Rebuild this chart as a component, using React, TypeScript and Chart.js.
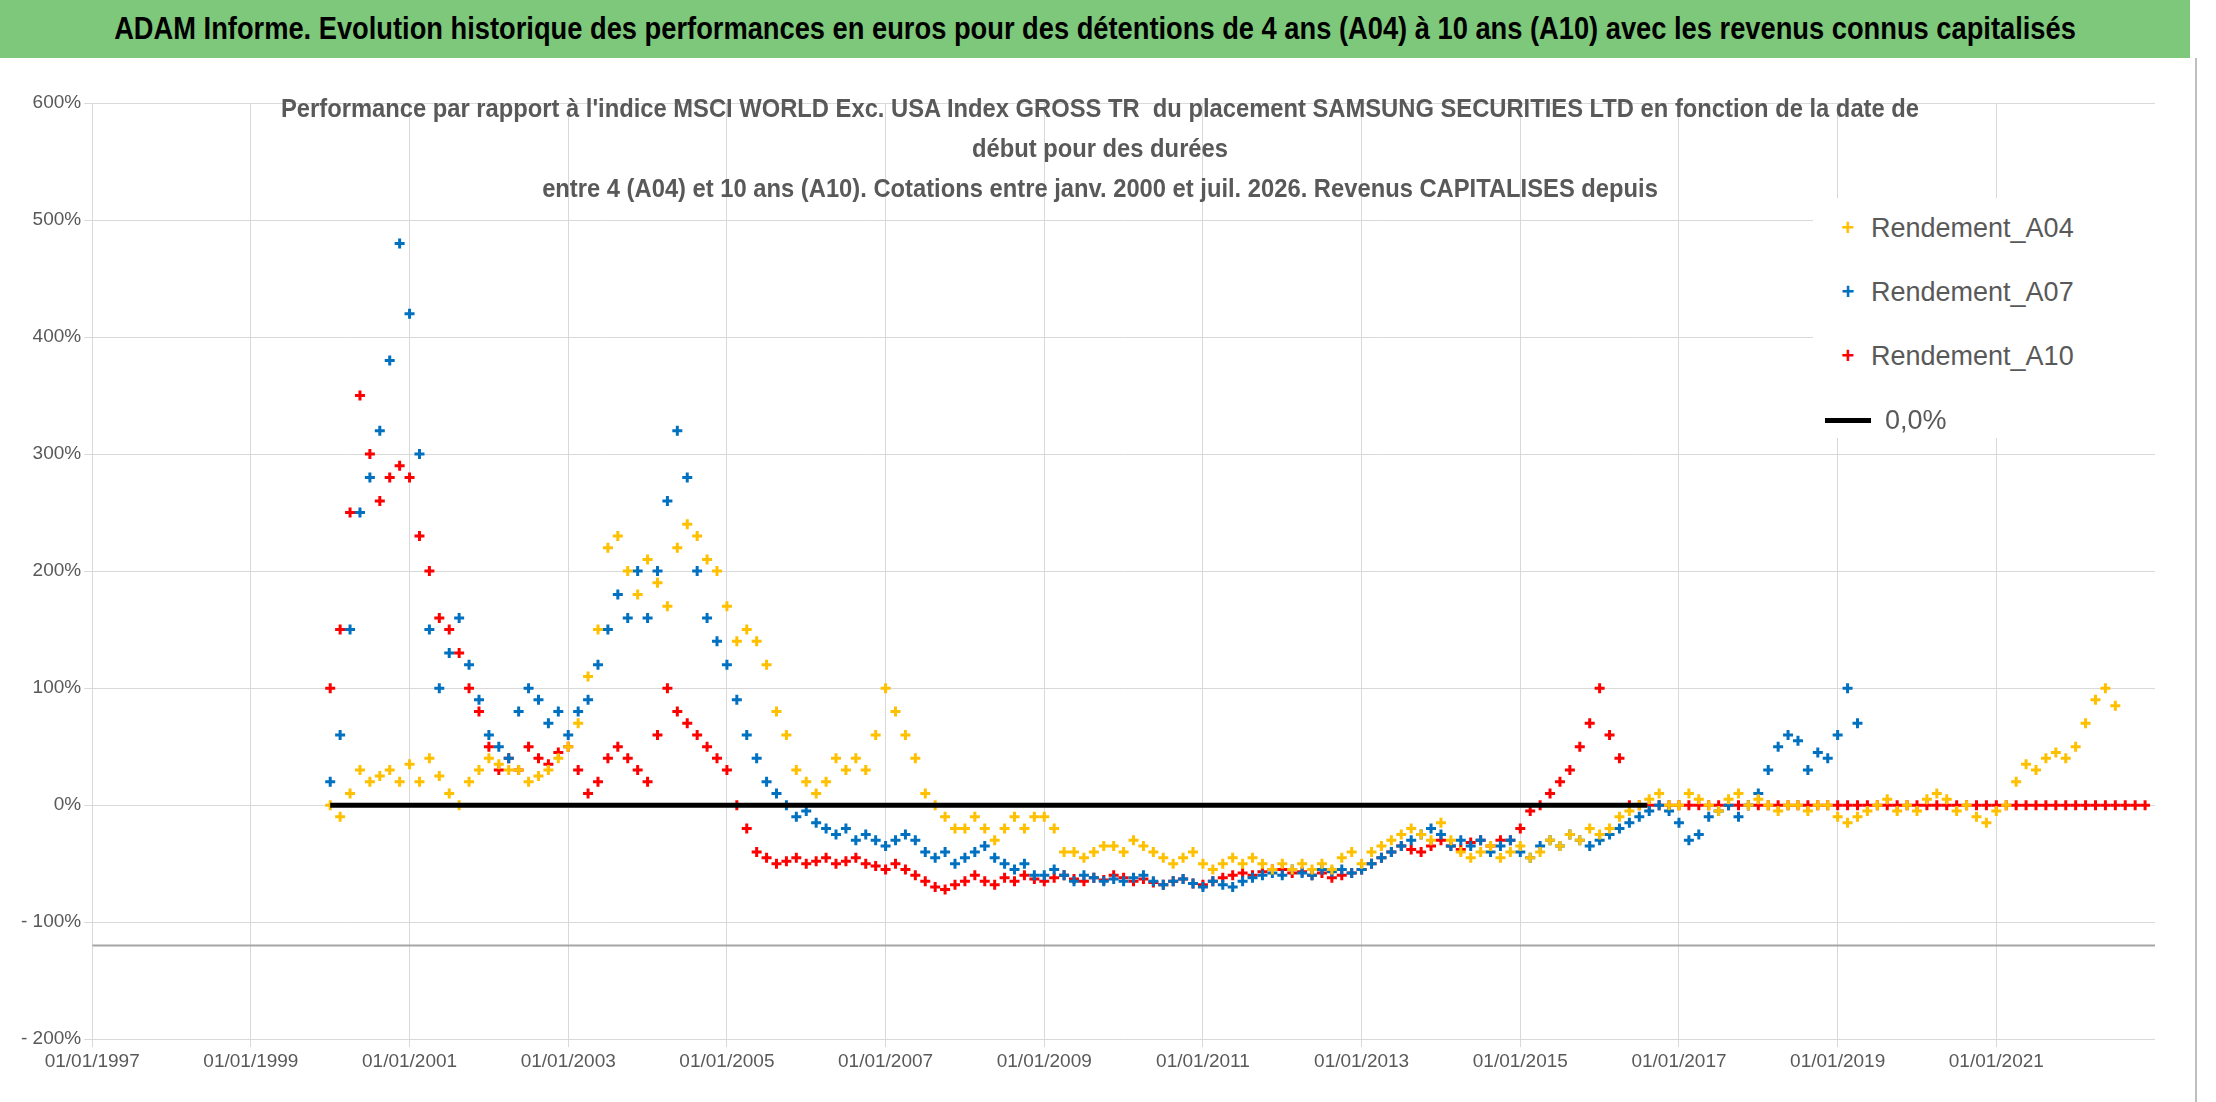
import React, { useEffect, useRef } from "react";
import { Chart, registerables } from "chart.js";
Chart.register(...registerables);

const STEP = 0.125;
const START = 2000.0;
const X_TICKS = [1997, 1999, 2001, 2003, 2005, 2007, 2009, 2011, 2013, 2015, 2017, 2019, 2021];
const A04 = [0,-10,10,30,20,25,30,20, 35,20,40,25,10,0,20,30, 40,35,30,30,20,25,30,40, 50,70,110,150,220,230,200,180,
 210,190,170,220,240,230,210,200, 170,140,150,140,120,80,60,30, 20,10,20,40,30,40,30,60, 100,80,60,40,10,0,-10,-20,
 -20,-10,-20,-30,-20,-10,-20,-10, -10,-20,-40,-40,-45,-40,-35,-35, -40,-30,-35,-40,-45,-50,-45,-40, -50,-55,-50,-45,-50,-45,-50,-55,
 -50,-55,-50,-55,-50,-55,-45,-40, -50,-40,-35,-30,-25,-20,-25,-30, -15,-30,-40,-45,-40,-35,-45,-40, -35,-45,-40,-30,-35,-25,-30,-20,
 -25,-20,-10,-5,0,5,10,0, 0,10,5,0,-5,5,10,0, 5,0,-5,0,0,-5,0,0, -10,-15,-10,-5,0,5,-5,0,
 -5,5,10,5,-5,0,-10,-15, -5,0,20,35,30,40,45,40, 50,70,90,100,85];
const A07 = [20,60,150,250,280,320,380,480, 420,300,150,100,130,160,120,90, 60,50,40,80,100,90,70,80, 60,80,90,120,150,180,160,200,
 160,200,260,320,280,200,160,140, 120,90,60,40,20,10,0,-10, -5,-15,-20,-25,-20,-30,-25,-30, -35,-30,-25,-30,-40,-45,-40,-50,
 -45,-40,-35,-45,-50,-55,-50,-60, -60,-55,-60,-65,-60,-62,-65,-63, -65,-62,-60,-65,-68,-65,-63,-67, -70,-65,-68,-70,-65,-62,-60,-58,
 -60,-55,-58,-60,-55,-57,-55,-58, -55,-50,-45,-40,-35,-30,-25,-20, -25,-35,-30,-35,-30,-40,-35,-30, -40,-45,-35,-30,-35,-25,-30,-35,
 -30,-25,-20,-15,-10,-5,0,-5, -15,-30,-25,-10,-5,0,-10,0, 10,30,50,60,55,30,45,40, 60,100,70];
const A10 = [100,150,250,350,300,260,280,290, 280,230,200,160,150,130,100,80, 50,30,40,30,50,40,35,45, 50,30,10,20,40,50,40,30,
 20,60,100,80,70,60,50,40, 30,0,-20,-40,-45,-50,-48,-45, -50,-48,-45,-50,-48,-45,-50,-52, -55,-50,-55,-60,-65,-70,-72,-68,
 -65,-60,-65,-68,-62,-65,-60,-63, -65,-62,-60,-63,-65,-62,-64,-60, -62,-65,-63,-66,-68,-65,-63,-67, -68,-65,-62,-60,-58,-60,-57,-55,
 -55,-58,-57,-60,-58,-62,-60,-58, -55,-50,-45,-40,-35,-38,-40,-35, -30,-35,-38,-32,-30,-35,-30,-30, -20,-5,0,10,20,30,50,70,
 100,60,40,0,0,0,0,0, 0,0,0,0,0,0,0,0, 0,0,0,0,0,0,0,0, 0,0,0,0,0,0,0,0, 0,0,0,0,0,0,0,0, 0,0,0,0,0,0,0,0, 0,0,0,0,0,0,0,0];
const ZERO_LINE = [[2000.0, 0], [2016.6, 0]];
const BASE_LINE = [[1997, -120], [2023, -120]];

const pts = (arr: number[]) => arr.map((v, i) => ({ x: START + i * STEP, y: v }));

const LEGEND = [
  { label: "Rendement_A04", color: "#FFC000", line: false },
  { label: "Rendement_A07", color: "#0070C0", line: false },
  { label: "Rendement_A10", color: "#FF0000", line: false },
  { label: "0,0%", color: "#000000", line: true },
];

export default function App() {
  const ref = useRef<HTMLCanvasElement>(null);
  useEffect(() => {
    document.body.style.margin = "0";
    const mk = (data: number[], color: string) => ({
      type: "scatter" as const, data: pts(data), showLine: false, pointStyle: "cross",
      pointRadius: 5, borderColor: color, backgroundColor: color, pointBorderWidth: 3,
    });
    const chart = new Chart(ref.current!, {
      type: "scatter",
      data: {
        datasets: [
          { data: BASE_LINE.map(([x, y]) => ({ x, y })), showLine: true, pointRadius: 0, borderColor: "#a6a6a6", borderWidth: 2 } as any,
          { data: ZERO_LINE.map(([x, y]) => ({ x, y })), showLine: true, pointRadius: 0, borderColor: "#000", borderWidth: 5 } as any,
          mk(A04, "#FFC000"), mk(A07, "#0070C0"), mk(A10, "#FF0000"),
        ],
      },
      options: {
        animation: false, responsive: false, maintainAspectRatio: false,
        layout: { padding: { top: 45, right: 40, left: 18, bottom: 26 } },
        plugins: { legend: { display: false }, tooltip: { enabled: false } },
        scales: {
          x: {
            type: "linear", min: 1997, max: 2023,
            afterBuildTicks: (s: any) => { s.ticks = X_TICKS.map((v) => ({ value: v })); },
            ticks: { color: "#595959", font: { size: 19, family: "Liberation Sans" }, callback: (v: any) => "01/01/" + v, maxRotation: 0, autoSkip: false },
            grid: { color: "#d9d9d9" }, border: { display: false },
          },
          y: {
            min: -200, max: 600,
            ticks: { stepSize: 100, color: "#595959", font: { size: 19, family: "Liberation Sans" }, callback: (v: any) => (v < 0 ? "- " + -v + "%" : v + "%") },
            grid: { color: "#d9d9d9" }, border: { display: false },
          },
        },
      },
    });
    return () => chart.destroy();
  }, []);
  return (
    <div style={{ position: "relative", width: 2216, height: 1102, background: "#fff", overflow: "hidden", fontFamily: "'Liberation Sans',sans-serif" }}>
      <div style={{ position: "absolute", left: 0, top: 0, width: 2190, height: 58, background: "#7DC87A" }}>
        <div style={{ position: "absolute", left: 1095, top: 0, whiteSpace: "nowrap", fontWeight: "bold", fontSize: 31, lineHeight: "58px", color: "#000", transform: "translateX(-50%) scaleX(0.88)" }}>
          ADAM Informe. Evolution historique des performances en euros pour des détentions de 4 ans (A04) à 10 ans (A10) avec les revenus connus capitalisés
        </div>
      </div>
      <div style={{ position: "absolute", left: 2195, top: 58, width: 2, height: 1044, background: "#bfbfbf" }} />
      <canvas ref={ref} width={2195} height={1044} style={{ position: "absolute", left: 0, top: 58 }} />
      <div style={{ position: "absolute", left: 200, width: 1800, top: 88, textAlign: "center", color: "#595959", fontWeight: "bold", fontSize: 25, lineHeight: "40px", transform: "scaleX(0.95)" }}>
        <div>Performance par rapport à l'indice MSCI WORLD Exc. USA Index GROSS TR&nbsp; du placement SAMSUNG SECURITIES LTD en fonction de la date de</div>
        <div>début pour des durées</div>
        <div>entre 4 (A04) et 10 ans (A10). Cotations entre janv. 2000 et juil. 2026. Revenus CAPITALISES depuis</div>
      </div>
      <div style={{ position: "absolute", left: 1813, top: 198, width: 350, height: 240, background: "#fff" }}>
        {LEGEND.map((l, i) => (
          <div key={i} style={{ position: "absolute", left: 12, top: 10 + i * 64, height: 40, display: "flex", alignItems: "center", fontSize: 27, color: "#595959" }}>
            {l.line ? <span style={{ display: "inline-block", width: 46, height: 5, background: "#000", marginRight: 14 }} />
              : <span style={{ display: "inline-block", width: 46, color: l.color, fontSize: 22, fontWeight: "bold", textAlign: "center" }}>+</span>}
            <span>{l.label}</span>
          </div>
        ))}
      </div>
    </div>
  );
}
